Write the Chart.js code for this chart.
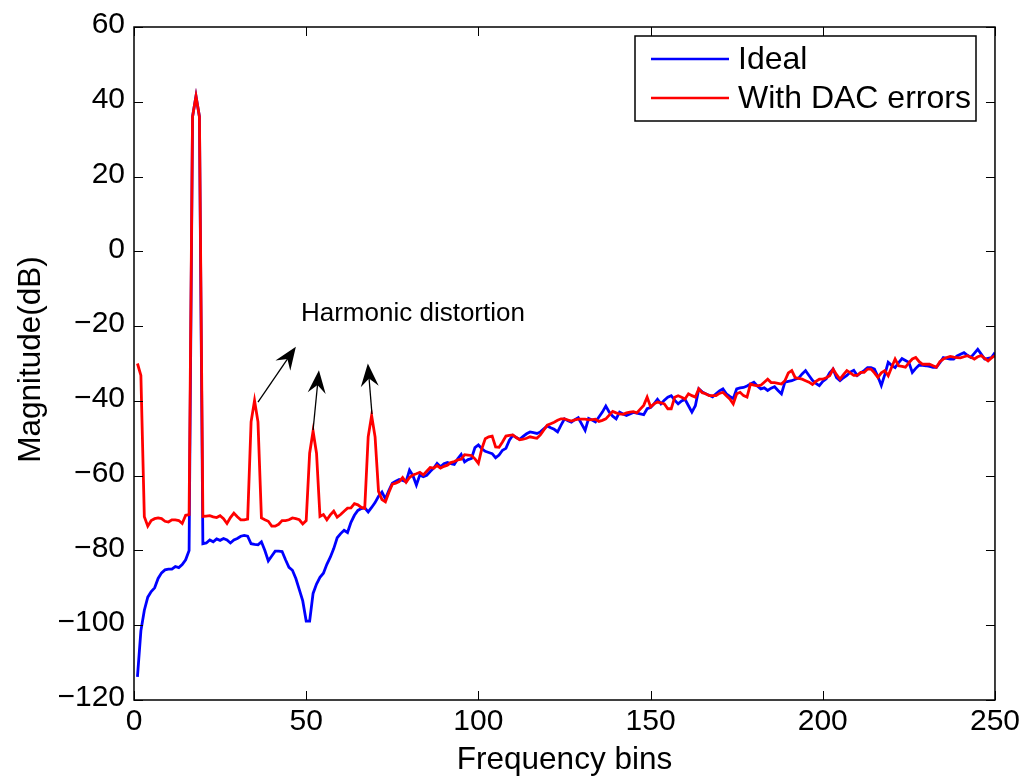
<!DOCTYPE html>
<html><head><meta charset="utf-8">
<script src="https://cdn.jsdelivr.net/npm/chart.js@4/dist/chart.umd.min.js"></script>
<style>html,body{margin:0;padding:0;background:#fff;overflow:hidden}</style>
</head><body>
<canvas id="c" width="1024" height="780"></canvas>
<script>
// Frequency bin categories
const bins = Array.from({length: 250}, (_, i) => i + 1);

// Ideal spectrum (dB)
const idealDb = [
-113.8,-101.5,-96,-92.5,-91,-90,-87.5,-86,-85.2,-85,
-85,-84.3,-84.6,-83.8,-82.5,-80,36,41.5,36,-78.2,
-78,-77.2,-77.7,-76.9,-77.3,-76.8,-77.2,-78,-77.2,-76.8,
-76.2,-76,-76.2,-78.2,-78.4,-78.5,-77.7,-80,-82.8,-81.5,
-80.2,-80.2,-80.3,-82.5,-84.5,-85.3,-87.5,-90.5,-93.5,-98.9,
-98.9,-91.5,-89,-87.2,-86.1,-83.7,-81.8,-79.5,-76.6,-75.5,
-74.6,-75.2,-72.5,-70.6,-69.3,-68.8,-68.6,-69.7,-68.5,-67.2,
-65.5,-64.4,-66.2,-64,-62,-61.5,-61,-61.3,-61.6,-58.5,
-60,-62.5,-59.8,-60.3,-59.9,-58.9,-58,-56.7,-57.6,-56.8,
-56.5,-56.8,-57,-55.5,-54.3,-56.3,-55.7,-55.4,-52.5,-51.8,
-52.8,-53.5,-53.8,-54.1,-55.2,-54.5,-53.2,-52.7,-50.5,-49.2,
-49.8,-50.3,-49.5,-48.8,-48.3,-48.5,-48.7,-48.3,-47.5,-46.7,
-47.2,-47.6,-48.3,-46.5,-44.8,-45.3,-45.7,-45,-44.5,-46.2,
-47.9,-44.7,-45.1,-45.6,-44.3,-43,-41.4,-43,-44.1,-44.8,
-43,-43.5,-43.9,-43.5,-43.1,-43.3,-43.5,-43.7,-42.1,-41.8,
-40.8,-39.6,-40.8,-39.8,-39,-38.6,-39.8,-40.8,-40,-39.6,
-41.3,-43,-41.3,-36.8,-37.6,-38.1,-38.5,-38.9,-38.1,-37.3,
-36.8,-38.1,-38.8,-39.4,-36.8,-36.5,-36.4,-36,-35.5,-35,
-36,-36.8,-36.5,-37.2,-36.6,-36.2,-37.2,-38.1,-35,-34.8,
-34.6,-34.2,-33.9,-32.8,-31.9,-33.2,-34.5,-35.3,-35.9,-34.8,
-34.1,-32.5,-31.5,-33.8,-34.6,-33.8,-33.2,-32.3,-31.8,-33.2,
-32.5,-31.9,-31.1,-31.1,-31.5,-33.5,-35.9,-33,-29.7,-30.5,
-31.1,-29.8,-28.7,-29.2,-29.7,-32.4,-31.3,-30.4,-30.5,-30.6,
-30.8,-31,-31,-29.8,-28.4,-28.6,-28.8,-28.8,-28,-27.5,
-27.1,-27.8,-28.4,-27.3,-26.2,-27.5,-28.8,-28.6,-28.4,-27.1
];

// Spectrum with DAC errors (dB)
const dacDb = [
-30,-33.2,-71,-73.5,-72,-71.5,-71.3,-71.5,-72.2,-72.4,
-71.8,-71.8,-72,-72.8,-70.6,-70.4,36,41.5,36,-70.9,
-70.8,-70.7,-71,-71.2,-70.7,-71.5,-72.8,-71.2,-70,-71,
-71.8,-71.8,-71.6,-45.6,-39.9,-45.6,-71.3,-71.8,-72.2,-73.5,
-73.5,-73,-72,-72,-71.8,-71.3,-71.5,-71.8,-72.9,-72,
-54,-48.1,-54,-70.9,-70.4,-71.8,-70.5,-69.5,-71.1,-70.4,
-69.5,-68.7,-68.6,-67.5,-67.8,-68.5,-68.7,-49.6,-43.9,-49.6,
-64.2,-66.4,-67,-64.5,-62.3,-62,-61.6,-60.5,-61.8,-60.5,
-59.8,-59.5,-59.1,-59.8,-58.8,-57.8,-58,-57.3,-58,-57.5,
-57.2,-56.5,-56.2,-55.8,-55.6,-54.4,-54.5,-54.6,-55.5,-56.7,
-52.8,-50.1,-49.6,-49.4,-52.3,-52.4,-51,-49.4,-49.2,-49.1,
-49.8,-50.4,-50.2,-50,-49.6,-49.8,-50,-49.1,-47.8,-46.5,
-46.1,-45.7,-45.2,-44.8,-44.8,-45.1,-45.4,-45.1,-44.9,-44.9,
-44.9,-45.1,-45,-44.9,-45.5,-45.2,-44.8,-43.8,-42.8,-43.2,
-43.5,-43.6,-43.2,-43,-42.9,-43.2,-42.2,-41.2,-39,-41.6,
-40.8,-40.3,-40.5,-40.8,-42.1,-42.1,-39,-38.6,-39,-39.5,
-38.1,-38.6,-39,-36.8,-37.8,-38.1,-38.6,-38.6,-38.6,-38,
-37.7,-38.6,-39.5,-40.8,-38.1,-37.7,-38.6,-39,-35.5,-35.8,
-36,-35.8,-35,-34.2,-35.1,-35.1,-35.3,-35.5,-34.6,-32.5,
-31.9,-33.8,-34,-34.2,-34.6,-35,-35.6,-34.8,-34.2,-34.2,
-33.8,-33.3,-31.5,-33,-34.2,-33,-31.9,-32.5,-33.2,-33.2,
-32.4,-32.4,-31.5,-31.5,-32.5,-33.7,-32.5,-31.9,-33.3,-31,
-28.8,-30.6,-30.8,-31,-29.8,-28.8,-28.4,-29.5,-30.2,-30.2,
-30.2,-30.6,-31,-29.5,-28.8,-28.4,-28.1,-28.3,-28.4,-28.5,
-28.2,-27.9,-28.3,-28.8,-28.2,-27.9,-28.6,-29.3,-28.5,-27.9
];

const xTicks = [0, 50, 100, 150, 200, 250];
const yTicks = [-120, -100, -80, -60, -40, -20, 0, 20, 40, 60];
const seriesNames = ['Ideal', 'With DAC errors'];
const seriesColors = ['#0000ff', '#ff0000'];
const annotationLabel = 'Harmonic distortion';
const annotationAt = [81, -16.7];
const arrowFrom = [[36, -40.3], [52, -47.8], [69.1, -43.5]];
const arrowTo = [[47, -25.5], [53.7, -31.8], [67.9, -30]];

const FONT = '"Liberation Sans", Arial, Helvetica, sans-serif';

function fmt(v) { return v < 0 ? '\u2212' + Math.abs(v) : String(v); }

const matlabPlugin = {
  id: 'matlab',
  afterDraw(chart) {
    const ctx = chart.ctx;
    const a = chart.chartArea;
    const xs = chart.scales.x, ys = chart.scales.y;
    ctx.save();
    // box
    ctx.strokeStyle = '#000';
    ctx.lineWidth = 1.5;
    ctx.strokeRect(a.left, a.top, a.right - a.left, a.bottom - a.top);
    // inward ticks on all sides
    ctx.lineWidth = 1;
    const tl = 9;
    ctx.beginPath();
    xTicks.forEach(v => {
      const px = Math.round(xs.getPixelForValue(v)) + 0.5;
      ctx.moveTo(px, a.bottom); ctx.lineTo(px, a.bottom - tl);
      ctx.moveTo(px, a.top); ctx.lineTo(px, a.top + tl);
    });
    yTicks.forEach(v => {
      const py = Math.round(ys.getPixelForValue(v)) + 0.5;
      ctx.moveTo(a.left, py); ctx.lineTo(a.left + tl, py);
      ctx.moveTo(a.right, py); ctx.lineTo(a.right - tl, py);
    });
    ctx.stroke();

    // axis titles
    ctx.fillStyle = '#000';
    ctx.font = '31.5px ' + FONT;
    ctx.textAlign = 'center';
    ctx.textBaseline = 'middle';
    ctx.fillText('Frequency bins', (a.left + a.right) / 2, 760);
    ctx.save();
    ctx.translate(31, (a.top + a.bottom) / 2 - 4);
    ctx.rotate(-Math.PI / 2);
    ctx.fillText('Magnitude(dB)', 0, 0);
    ctx.restore();

    // annotation text
    ctx.font = '26px ' + FONT;
    ctx.fillText(annotationLabel, xs.getPixelForValue(annotationAt[0]), ys.getPixelForValue(annotationAt[1]));

    // arrows
    arrowFrom.forEach((f, i) => {
      const t = arrowTo[i];
      const x0 = xs.getPixelForValue(f[0]), y0 = ys.getPixelForValue(f[1]);
      const x1 = xs.getPixelForValue(t[0]), y1 = ys.getPixelForValue(t[1]);
      const dx = x1 - x0, dy = y1 - y0, len = Math.hypot(dx, dy);
      const ux = dx / len, uy = dy / len, nx = -uy, ny = ux;
      const L = 23, W = 9;
      ctx.strokeStyle = '#000';
      ctx.lineWidth = 1.3;
      ctx.beginPath();
      ctx.moveTo(x0, y0);
      ctx.lineTo(x1 - ux * L * 0.6, y1 - uy * L * 0.6);
      ctx.stroke();
      ctx.fillStyle = '#000';
      ctx.beginPath();
      ctx.moveTo(x1, y1);
      ctx.lineTo(x1 - ux * L + nx * W, y1 - uy * L + ny * W);
      ctx.lineTo(x1 - ux * L * 0.65, y1 - uy * L * 0.65);
      ctx.lineTo(x1 - ux * L - nx * W, y1 - uy * L - ny * W);
      ctx.closePath();
      ctx.fill();
    });

    // legend
    const lx = 635, ly = 36, lw = 341, lh = 85;
    ctx.fillStyle = '#fff';
    ctx.fillRect(lx, ly, lw, lh);
    ctx.strokeStyle = '#000';
    ctx.lineWidth = 1.5;
    ctx.strokeRect(lx, ly, lw, lh);
    ctx.font = '32px ' + FONT;
    ctx.textAlign = 'left';
    ctx.textBaseline = 'middle';
    const rows = [59, 98];
    seriesNames.forEach((n, i) => {
      ctx.strokeStyle = seriesColors[i];
      ctx.lineWidth = 2.5;
      ctx.beginPath();
      ctx.moveTo(651, rows[i]); ctx.lineTo(729, rows[i]);
      ctx.stroke();
      ctx.fillStyle = '#000';
      ctx.fillText(n, 738, rows[i] + 1);
    });
    ctx.restore();
  }
};

new Chart(document.getElementById('c'), {
  type: 'line',
  data: {
    datasets: [
      { label: seriesNames[0], data: bins.map((b, i) => ({x: b, y: idealDb[i]})),
        borderColor: seriesColors[0], borderWidth: 2.8, pointRadius: 0, tension: 0, order: 2 },
      { label: seriesNames[1], data: bins.map((b, i) => ({x: b, y: dacDb[i]})),
        borderColor: seriesColors[1], borderWidth: 2.8, pointRadius: 0, tension: 0, order: 1 }
    ]
  },
  options: {
    responsive: false,
    devicePixelRatio: 1,
    animation: false,
    layout: { padding: { top: 22, right: 29, left: 0, bottom: 0 } },
    plugins: { legend: { display: false }, tooltip: { enabled: false } },
    scales: {
      x: {
        type: 'linear', min: 0, max: 250,
        afterBuildTicks: s => { s.ticks = xTicks.map(v => ({value: v})); },
        afterFit: s => { s.height = 80; },
        grid: { display: false, drawTicks: false },
        border: { display: false },
        ticks: { color: '#000', font: { size: 30, family: FONT }, padding: 4, maxRotation: 0, autoSkip: false, callback: v => fmt(v) }
      },
      y: {
        type: 'linear', min: -120, max: 60,
        afterBuildTicks: s => { s.ticks = yTicks.map(v => ({value: v})); },
        afterFit: s => { s.width = 134; },
        grid: { display: false, drawTicks: false },
        border: { display: false },
        ticks: { color: '#000', font: { size: 30, family: FONT }, padding: 9, labelOffset: -2, autoSkip: false, callback: v => fmt(v) }
      }
    }
  },
  plugins: [matlabPlugin]
});
</script>
</body></html>
